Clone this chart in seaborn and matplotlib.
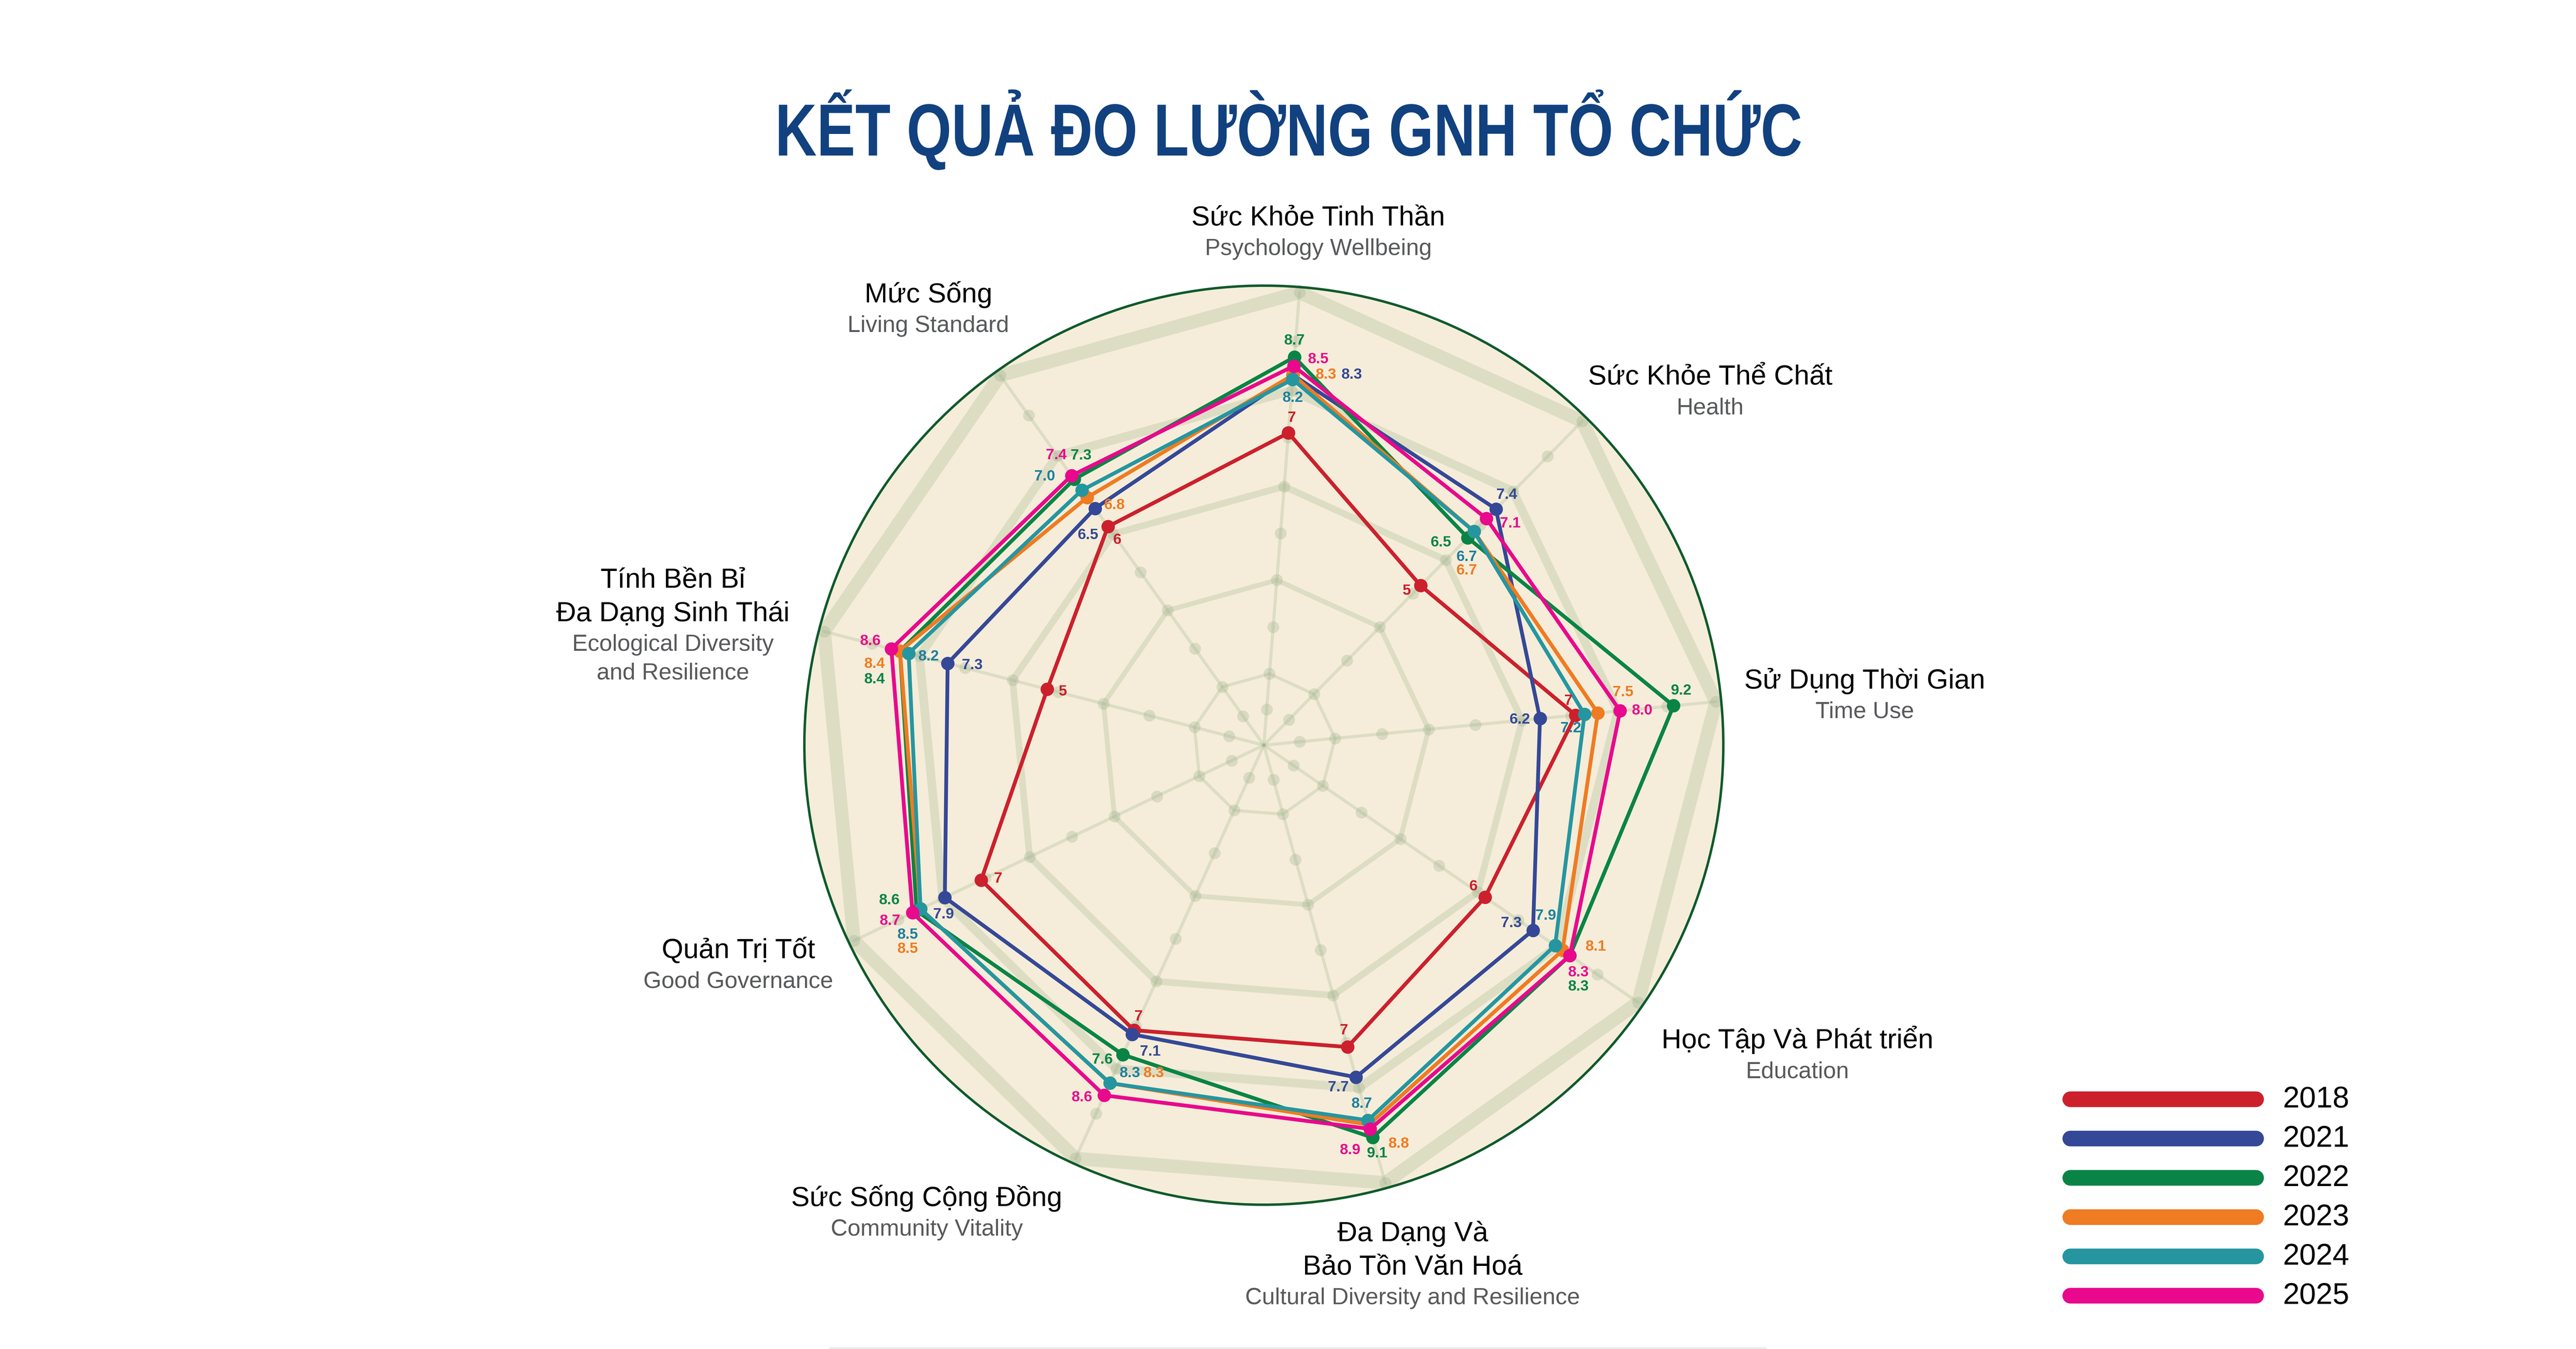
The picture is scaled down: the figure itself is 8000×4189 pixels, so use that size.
import numpy as np
import pandas as pd
import matplotlib
matplotlib.use('Agg')
import matplotlib.pyplot as plt
from matplotlib.lines import Line2D
from matplotlib.patheffects import AbstractPathEffect
from matplotlib.transforms import Affine2D
import seaborn as sns

sns.set_style('white')
plt.rcParams['font.family'] = ['Liberation Sans', 'DejaVu Sans']

# ---- data ----
title = 'KẾT QUẢ ĐO LƯỜNG GNH TỔ CHỨC'
axes_vi = ['Sức Khỏe Tinh Thần', 'Sức Khỏe Thể Chất', 'Sử Dụng Thời Gian',
           'Học Tập Và Phát triển', 'Đa Dạng Và\nBảo Tồn Văn Hoá', 'Sức Sống Cộng Đồng',
           'Quản Trị Tốt', 'Tính Bền Bỉ\nĐa Dạng Sinh Thái', 'Mức Sống']
axes_en = ['Psychology Wellbeing', 'Health', 'Time Use', 'Education',
           'Cultural Diversity and Resilience', 'Community Vitality', 'Good Governance',
           'Ecological Diversity\nand Resilience', 'Living Standard']
years = ['2018', '2021', '2022', '2023', '2024', '2025']
v2018 = [7, 5, 7, 6, 7, 7, 7, 5, 6]
v2021 = [8.3, 7.4, 6.2, 7.3, 7.7, 7.1, 7.9, 7.3, 6.5]
v2022 = [8.7, 6.5, 9.2, 8.3, 9.1, 7.6, 8.6, 8.4, 7.3]
v2023 = [8.3, 6.7, 7.5, 8.1, 8.8, 8.3, 8.5, 8.4, 6.8]
v2024 = [8.2, 6.7, 7.2, 7.9, 8.7, 8.3, 8.5, 8.2, 7.0]
v2025 = [8.5, 7.1, 8.0, 8.3, 8.9, 8.6, 8.7, 8.6, 7.4]
values = [v2018, v2021, v2022, v2023, v2024, v2025]

# ---- styles ----
line_colors = ['#cc202d', '#354897', '#0a8446', '#ef7b22', '#2596a0', '#e8098c']
text_colors = ['#cc202d', '#354897', '#0a8446', '#ef7b22', '#1f7f9e', '#e8098c']
web_col = '#9fb48f'
web_alpha = 0.27

# value label offsets (px in the 8000 px image, y down), per year per axis
label_off = [
    [(11, -46), (-43, 17), (-22, -44), (-37, -33), (-11, -51), (14, -42), (53, -4), (48, 8), (28, 42)],
    [(182, 0), (34, -44), (-63, 4), (-68, -22), (-55, 32), (56, 54), (-4, 53), (76, 6), (-22, 83)],
    [(0, -51), (-83, 15), (23, -46), (26, 97), (14, 50), (-64, 16), (-85, -32), (-79, 88), (21, -73)],
    [(102, 0), (-23, 122), (78, -64), (103, -11), (92, 60), (136, -30), (-40, 125), (-79, 40), (84, 24)],
    [(0, 58), (-23, 80), (-42, 44), (-29, -92), (-19, -51), (62, -30), (-40, 81), (62, 10), (-116, -42)],
    [(76, -21), (74, 16), (68, 0), (26, 53), (-63, 66), (-70, 7), (-70, 26), (-65, -24), (-48, -63)],
]
# axis label anchors: (center x, baseline of first line) in px
lab_pos = [(4094, 700), (5311, 1194), (5791, 2138), (5582, 3255), (4387, 3854),
           (2878, 3745), (2293, 2975), (2090, 1825), (2883, 939)]

W, H, DPI = 8000, 4189, 500
PT = 72 / DPI


def fx(px):
    return px / W


def fy(py):
    return 1 - py / H


class HStretch(AbstractPathEffect):
    """squeeze text glyphs horizontally around x0 (display px)"""

    def __init__(self, sx, x0):
        super().__init__()
        self.sx = sx
        self.x0 = x0

    def draw_path(self, renderer, gc, tpath, affine, rgbFace=None):
        st = Affine2D().translate(-self.x0, 0).scale(self.sx, 1).translate(self.x0, 0)
        renderer.draw_path(gc, tpath, affine + st, rgbFace)


fig = plt.figure(figsize=(W / DPI, H / DPI), dpi=DPI, facecolor='white')

cx, cy, R = 3925, 2314, 1427
rmax = 10.27
ax = fig.add_axes([fx(cx - R), fy(cy + R), 2 * R / W, 2 * R / H], projection='polar')
ax.set_theta_zero_location('N', offset=-4.5)
ax.set_theta_direction(-1)
ax.set_facecolor('#f5edd9')
ax.spines['polar'].set_color('#0f5a2c')
ax.spines['polar'].set_linewidth(1.1)

n = len(axes_vi)
theta = np.linspace(0, 2 * np.pi, n, endpoint=False)

# spider web background
ring_levels = [1.6, 3.7, 5.8, 7.95, 10.15]
ring_widths = [1.4, 2.2, 3.0, 3.9, 6.0]
for lv, lw in zip(ring_levels, ring_widths):
    ax.plot(np.append(theta, theta[0]), [lv] * (n + 1), color=web_col, alpha=web_alpha,
            lw=lw, solid_joinstyle='round', zorder=1)
for t in theta:
    ax.plot([t, t], [0, 10.15], color=web_col, alpha=web_alpha, lw=1.4, zorder=1)
dot_levels = ring_levels + [0.8, 2.65, 4.75, 6.9, 9.05]
tt, rr = np.meshgrid(theta, dot_levels)
ax.scatter(tt.ravel(), rr.ravel(), s=28, color=web_col, alpha=0.32, linewidths=0, zorder=1.5)

# series
rows = []
for y, v in zip(years, values):
    for k in range(n + 1):
        rows.append({'theta': theta[k % n] + (2 * np.pi if k == n else 0),
                     'score': v[k % n], 'year': y})
df = pd.DataFrame(rows)
sns.lineplot(data=df, x='theta', y='score', hue='year', palette=dict(zip(years, line_colors)),
             sort=False, estimator=None, marker='o', markersize=6, markeredgewidth=0,
             linewidth=1.7, legend=False, ax=ax, zorder=3)

for i, (y, v) in enumerate(zip(years, values)):
    for k in range(n):
        txt = f'{v[k]:g}' if y == '2018' else f'{v[k]:.1f}'
        dx, dy = label_off[i][k]
        ax.annotate(txt, xy=(theta[k], v[k]), xytext=(dx * PT, -dy * PT),
                    textcoords='offset points', ha='center', va='center',
                    fontsize=6.7, fontweight='bold', color=text_colors[i],
                    zorder=5, annotation_clip=False)

ax.set_ylim(0, rmax)
ax.set_xticks([])
ax.set_yticks([])
ax.grid(False)
ax.set_xlabel('')
ax.set_ylabel('')

# axis labels
for (x0, b0), vi, en in zip(lab_pos, axes_vi, axes_en):
    b = b0
    for line in vi.split('\n'):
        fig.text(fx(x0), fy(b), line, ha='center', va='baseline', fontsize=12.4, color='black')
        b += 104
    b += 92 - 104
    for line in en.split('\n'):
        fig.text(fx(x0), fy(b), line, ha='center', va='baseline', fontsize=10.4, color='#58595b')
        b += 88

# title, squeezed to the condensed width of the original
ttl = fig.text(fx(4002), fy(483), title, ha='center', va='baseline', fontsize=33,
               fontweight='bold', color='#11417f')
fig.canvas.draw()
tw = ttl.get_window_extent().width
ttl.set_path_effects([HStretch(3190 / tw, 4002)])

# legend
leg_y0, leg_dy = 3413, 122
for i, (y, c) in enumerate(zip(years, line_colors)):
    yy = leg_y0 + i * leg_dy
    fig.add_artist(Line2D([fx(6429), fx(7006)], [fy(yy), fy(yy)], transform=fig.transFigure,
                          color=c, lw=7, solid_capstyle='round'))
    fig.text(fx(7089), fy(yy + 26), y, ha='left', va='baseline', fontsize=13.4, color='black')

# faint rule at bottom
fig.add_artist(Line2D([fx(2577), fx(5485)], [fy(4186), fy(4186)], transform=fig.transFigure,
                      color='#e6e6e6', lw=0.6))

fig.savefig('out.png', dpi=DPI)
